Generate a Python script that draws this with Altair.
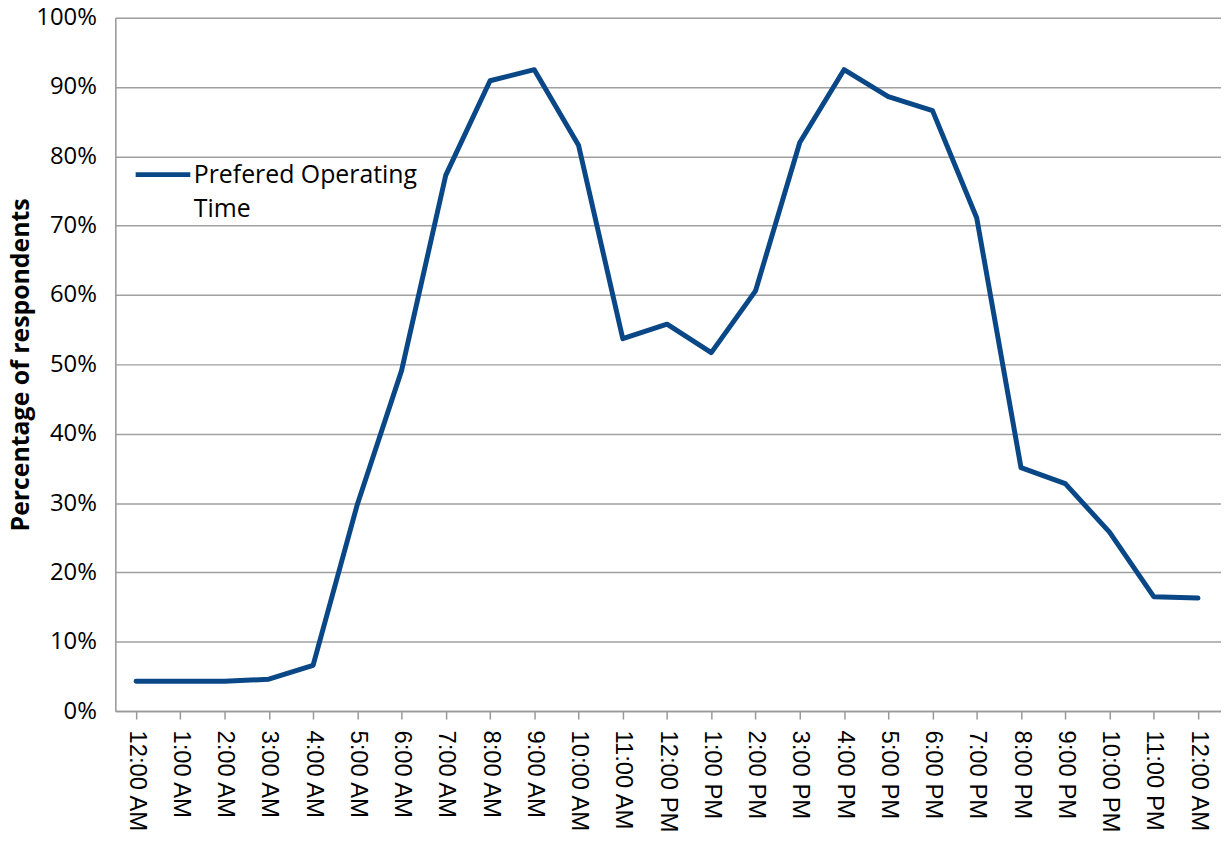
import altair as alt
import pandas as pd

hours = ["12:00 AM", "1:00 AM", "2:00 AM", "3:00 AM", "4:00 AM", "5:00 AM", "6:00 AM",
         "7:00 AM", "8:00 AM", "9:00 AM", "10:00 AM", "11:00 AM", "12:00 PM", "1:00 PM",
         "2:00 PM", "3:00 PM", "4:00 PM", "5:00 PM", "6:00 PM", "7:00 PM", "8:00 PM",
         "9:00 PM", "10:00 PM", "11:00 PM", "12:00 AM"]
values = [4.3, 4.3, 4.3, 4.6, 6.6, 29.8, 49.1, 77.3, 90.9, 92.5, 81.6, 53.7, 55.8, 51.7,
          60.6, 82.0, 92.5, 88.6, 86.6, 71.1, 35.1, 32.8, 25.8, 16.5, 16.3]
series = "Prefered Operating Time"

df = pd.DataFrame({
    "idx": list(range(len(hours))),
    "label": hours,
    "pct": [v / 100 for v in values],
    "series": [series] * len(hours),
})

label_js = "[" + ",".join("'" + h + "'" for h in hours) + "]"

chart = alt.Chart(df).mark_line(strokeWidth=5, strokeJoin="round", strokeCap="round").encode(
    x=alt.X("idx:Q",
            scale=alt.Scale(domain=[-0.47, 24.52], nice=False, zero=False),
            axis=alt.Axis(title=None, values=list(range(len(hours))),
                          labelExpr=label_js + "[datum.value]",
                          labelAngle=90, labelAlign="left", labelBaseline="middle",
                          labelFont="Liberation Sans", labelFontSize=24, labelColor="#000000",
                          labelPadding=11, grid=False, tickSize=8, tickColor="#999999",
                          tickWidth=1.5, domainColor="#999999", domainWidth=1.5,
                          labelOverlap=False, labelBound=False, labelFlush=False)),
    y=alt.Y("pct:Q",
            scale=alt.Scale(domain=[0, 1], nice=False),
            axis=alt.Axis(title="Percentage of respondents", format=".0%", values=[i / 10 for i in range(11)],
                          titleFont="Open Sans", titleFontSize=25, titleFontWeight="bold",
                          titleColor="#000000", titlePadding=2,
                          labelFont="Open Sans", labelFontSize=24, labelColor="#000000",
                          labelPadding=19, ticks=False, gridColor="#A0A0A0", gridWidth=1.5,
                          domainColor="#999999", domainWidth=1.5)),
    color=alt.Color("series:N", scale=alt.Scale(range=["#0A4786"]),
                    legend=alt.Legend(title=None, orient="none", legendX=18, legendY=128,
                                      symbolType="stroke", symbolStrokeWidth=5, symbolSize=3025,
                                      labelFont="Open Sans", labelFontSize=25, labelColor="#000000",
                                      labelExpr="['Prefered Operating', 'Time']",
                                      labelLimit=400, labelOffset=1)),
).properties(
    width=1221, height=827,
    autosize=alt.AutoSizeParams(type="fit", contains="padding"),
    padding={"left": 0, "top": -5, "right": 0, "bottom": 0},
).configure_view(stroke=None).configure(
    background="white",
    style={"guide-label": {"lineHeight": 35}},
)

chart.save("out.html", embed_options={"renderer": "svg", "actions": False})
